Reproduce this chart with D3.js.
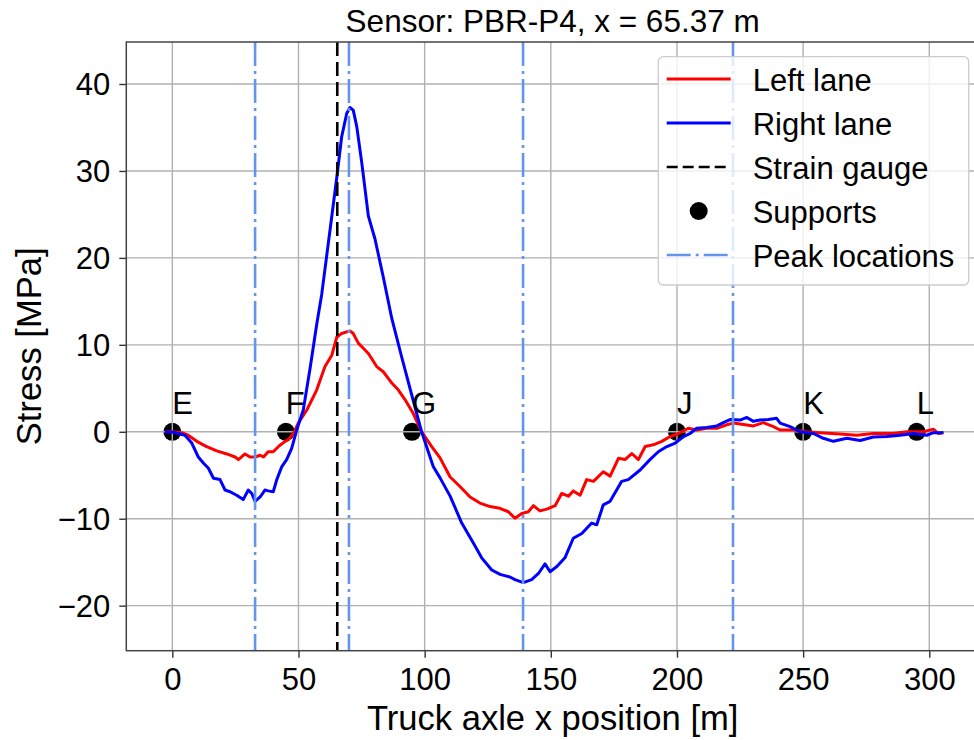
<!DOCTYPE html>
<html>
<head>
<meta charset="utf-8">
<script src="https://cdn.jsdelivr.net/npm/d3@7"></script>
<style>
  body { margin: 0; background: #fff; }
  text { font-family: "Liberation Sans", Arial, Helvetica, sans-serif; fill: #000; }
</style>
</head>
<body>
<svg id="chart" width="974" height="740"></svg>
<script>
// Stress response at sensor PBR-P4 vs. truck axle position
const leftX = [-3, 0, 3.7, 6.3, 9.7, 13.6, 17.6, 21.6, 24.9, 26.2,
  28.8, 30.8, 32.8, 34.8, 36.1, 38.0, 40.0, 42.4, 44.7, 46.0,
  48.0, 49.9, 53.3, 57.2, 60.5, 63.2, 65.2, 67.1, 70.4, 71.7,
  73.7, 75.7, 77.7, 81.0, 83.6, 87.0, 89.6, 92.2, 95.5, 98.8,
  102.8, 106.1, 110.1, 114.0, 118.0, 121.9, 125.9, 129.8, 133.2, 135.8,
  138.5, 141.1, 143.1, 145.7, 148.4, 151.7, 154.3, 157.0, 158.9, 161.6,
  164.2, 166.9, 170.8, 173.5, 176.8, 179.4, 182.1, 184.7, 187.4, 190.6,
  194.0, 197.3, 200.6, 204.5, 207.8, 211.8, 215.8, 219.7, 222.4, 225.0,
  230.3, 234.2, 238.2, 240.9, 246.1, 251.4, 256.7, 264.6, 271.3, 277.8,
  285.8, 291.1, 297.7, 301.6, 303.6, 305.6];
const leftStress = [0, 0, -0.1, -0.4, -1.1, -1.7, -2.2, -2.55, -2.9, -3.2,
  -2.55, -2.9, -2.9, -2.7, -2.9, -2.3, -2.3, -1.6, -1.1, -0.9,
  -0.2, 1.0, 2.5, 4.8, 7.5, 8.8, 10.9, 11.3, 11.6, 11.3,
  10.2, 9.6, 9.0, 7.5, 6.9, 5.6, 4.8, 3.7, 2.1, 0.0,
  -1.7, -3.0, -5.2, -6.3, -7.5, -8.2, -8.6, -8.8, -9.2, -9.95,
  -9.4, -9.2, -8.5, -9.1, -8.9, -8.5, -7.1, -7.4, -6.8, -7.3,
  -5.5, -5.7, -4.6, -5.1, -3.05, -3.2, -2.5, -3.2, -1.7, -1.5,
  -1.1, -0.55, -0.2, 0.4, 0.2, 0.4, 0.4, 0.8, 1.0, 0.9,
  0.67, 1.05, 0.6, 0.2, 0.2, 0.0, -0.1, -0.25, -0.4, -0.2,
  -0.2, 0.0, 0.0, 0.3, -0.2, -0.1];

const rightX = [-3, 0.4, 5.0, 7.7, 10.3, 12.3, 14.3, 16.3, 18.9, 20.9,
  22.9, 25.5, 28.1, 30.1, 31.5, 32.8, 34.8, 36.7, 38.0, 40.0,
  41.4, 43.4, 45.3, 47.3, 49.3, 51.9, 54.6, 57.2, 59.2, 62.5,
  65.2, 67.1, 69.1, 70.4, 71.7, 73.1, 75.1, 77.7, 80.3, 83.6,
  87.0, 90.9, 95.1, 98.8, 103.4, 106.1, 110.1, 114.7, 119.3, 122.6,
  126.6, 129.9, 133.8, 135.8, 139.1, 142.4, 145.1, 147.7, 149.7, 152.4,
  155.6, 158.9, 162.3, 166.2, 168.2, 170.8, 173.5, 178.1, 180.7, 185.4,
  189.3, 192.6, 196.0, 199.3, 202.6, 205.2, 207.8, 211.8, 215.8, 218.4,
  221.0, 225.0, 227.7, 230.3, 232.9, 236.2, 239.5, 240.9, 244.8, 248.8,
  254.1, 258.0, 262.0, 267.3, 272.6, 277.8, 283.2, 288.4, 293.7, 299.0,
  301.6, 305.6];
const rightStress = [0, -0.05, -0.4, -1.3, -2.9, -3.6, -4.2, -5.35, -5.5, -6.7,
  -6.9, -7.3, -7.8, -6.7, -7.1, -8.0, -7.5, -6.7, -6.8, -6.9,
  -5.5, -4.0, -3.2, -1.9, 0.2, 2.5, 7.3, 12.3, 15.8, 23.2,
  29.3, 33.9, 36.6, 37.3, 37.0, 35.1, 30.9, 24.8, 22.2, 17.8,
  13.0, 8.6, 4.0, 0.0, -4.0, -5.3, -7.4, -10.5, -12.8, -14.5,
  -15.9, -16.4, -16.7, -17.0, -17.35, -17.0, -16.3, -15.2, -16.1, -15.5,
  -14.5, -12.25, -11.7, -10.5, -10.7, -8.4, -8.0, -5.7, -5.5, -4.4,
  -3.2, -2.3, -1.7, -1.3, -0.55, -0.2, 0.4, 0.5, 0.67, 1.05,
  1.4, 1.35, 1.65, 1.2, 1.35, 1.4, 1.55, 1.0, 0.6, 0.0,
  -0.2, -0.75, -1.1, -0.75, -1.0, -0.6, -0.55, -0.4, -0.2, -0.4,
  -0.1, -0.1];

const supportNames = ["E", "F", "G", "J", "K", "L"];
const supportX = [0, 45, 95, 200, 250, 295];
const peakX = [32.8, 70.0, 139.0, 222.2];
const gaugeX = 65.37;
const xTicks = [0, 50, 100, 150, 200, 250, 300];
const yTicks = [-20, -10, 0, 10, 20, 30, 40];
const legendLabels = ["Left lane", "Right lane", "Strain gauge", "Supports", "Peak locations"];

const plot = { left: 126.3, right: 979, top: 42, bottom: 650.7 };
const x = d3.scaleLinear().domain([-18.24, 319.7]).range([plot.left, plot.right]);
const y = d3.scaleLinear().domain([-25.18, 44.83]).range([plot.bottom, plot.top]);

const svg = d3.select("#chart");
svg.append("rect").attr("width", 974).attr("height", 740).attr("fill", "#fff");

svg.append("defs").append("clipPath").attr("id", "plotClip")
  .append("rect")
  .attr("x", plot.left).attr("y", plot.top)
  .attr("width", plot.right - plot.left).attr("height", plot.bottom - plot.top);

const inner = svg.append("g").attr("clip-path", "url(#plotClip)");

// supports sit beneath the grid
inner.append("g").selectAll("circle")
  .data(supportX)
  .join("circle")
  .attr("cx", d => x(d)).attr("cy", y(0)).attr("r", 9)
  .attr("fill", "#000");

// grid
const grid = inner.append("g").attr("stroke", "#b0b0b0").attr("stroke-width", 1.4);
grid.selectAll("line.gx").data(xTicks).join("line").attr("class", "gx")
  .attr("x1", d => x(d)).attr("x2", d => x(d))
  .attr("y1", plot.top).attr("y2", plot.bottom);
grid.selectAll("line.gy").data(yTicks).join("line").attr("class", "gy")
  .attr("y1", d => y(d)).attr("y2", d => y(d))
  .attr("x1", plot.left).attr("x2", plot.right);

// stress curves
const line = d3.line().x(d => x(d[0])).y(d => y(d[1]));
inner.append("path")
  .datum(leftX.map((v, i) => [v, leftStress[i]]))
  .attr("d", line).attr("fill", "none")
  .attr("stroke", "#ff0000").attr("stroke-width", 3).attr("stroke-linejoin", "round");
inner.append("path")
  .datum(rightX.map((v, i) => [v, rightStress[i]]))
  .attr("d", line).attr("fill", "none")
  .attr("stroke", "#0000ff").attr("stroke-width", 3).attr("stroke-linejoin", "round");

// strain gauge position
inner.append("line")
  .attr("x1", x(gaugeX)).attr("x2", x(gaugeX))
  .attr("y1", plot.top).attr("y2", plot.bottom)
  .attr("stroke", "#000").attr("stroke-width", 2.6)
  .attr("stroke-dasharray", "14,6");

// peak locations
inner.append("g").selectAll("line")
  .data(peakX)
  .join("line")
  .attr("x1", d => x(d)).attr("x2", d => x(d))
  .attr("y1", plot.top).attr("y2", plot.bottom)
  .attr("stroke", "#6495ed").attr("stroke-width", 2.6)
  .attr("stroke-dasharray", "24,5,3,5");

// support labels
svg.append("g").selectAll("text")
  .data(supportNames)
  .join("text")
  .attr("x", (d, i) => x(supportX[i]))
  .attr("y", y(2))
  .attr("font-size", 31)
  .text(d => d);

// axes
const xAxis = svg.append("g")
  .attr("transform", `translate(0,${plot.bottom})`)
  .call(d3.axisBottom(x).tickValues(xTicks).tickSize(7).tickPadding(9).tickFormat(d3.format("d")));
const yAxis = svg.append("g")
  .attr("transform", `translate(${plot.left},0)`)
  .call(d3.axisLeft(y).tickValues(yTicks).tickSize(7).tickPadding(9).tickFormat(d3.format("d")));
[xAxis, yAxis].forEach(g => {
  g.select(".domain").remove();
  g.selectAll(".tick line").attr("stroke", "#333").attr("stroke-width", 1.4);
  g.selectAll(".tick text").attr("font-size", 31).attr("fill", "#000")
    .attr("font-family", '"Liberation Sans", Arial, sans-serif');
});
xAxis.selectAll(".tick text").attr("dy", null).attr("y", 39);
yAxis.selectAll(".tick text").attr("dy", "0.35em");

// axes frame
svg.append("rect")
  .attr("x", plot.left).attr("y", plot.top)
  .attr("width", plot.right - plot.left).attr("height", plot.bottom - plot.top)
  .attr("fill", "none").attr("stroke", "#444").attr("stroke-width", 1.5);

// titles
svg.append("text")
  .attr("x", (plot.left + plot.right) / 2).attr("y", 32)
  .attr("text-anchor", "middle").attr("font-size", 31.5)
  .text("Sensor: PBR-P4, x = 65.37 m");
svg.append("text")
  .attr("x", (plot.left + plot.right) / 2).attr("y", 730)
  .attr("text-anchor", "middle").attr("font-size", 34.6)
  .text("Truck axle x position [m]");
svg.append("text")
  .attr("transform", `translate(41,${(plot.top + plot.bottom) / 2}) rotate(-90)`)
  .attr("text-anchor", "middle").attr("font-size", 34.6)
  .text("Stress [MPa]");

// legend
const legend = svg.append("g");
legend.append("rect")
  .attr("x", 658.3).attr("y", 56.7).attr("width", 310.4).attr("height", 228.3)
  .attr("rx", 5).attr("fill", "#fff").attr("fill-opacity", 0.8)
  .attr("stroke", "#cccccc").attr("stroke-width", 1.3);
const rowY = i => 79 + i * 44;
const hx0 = 666.7, hx1 = 730.7;
legend.append("line").attr("x1", hx0).attr("x2", hx1).attr("y1", rowY(0)).attr("y2", rowY(0))
  .attr("stroke", "#ff0000").attr("stroke-width", 3);
legend.append("line").attr("x1", hx0).attr("x2", hx1).attr("y1", rowY(1)).attr("y2", rowY(1))
  .attr("stroke", "#0000ff").attr("stroke-width", 3);
legend.append("line").attr("x1", hx0).attr("x2", hx1).attr("y1", rowY(2)).attr("y2", rowY(2))
  .attr("stroke", "#000").attr("stroke-width", 2.6).attr("stroke-dasharray", "11,5");
legend.append("circle").attr("cx", (hx0 + hx1) / 2).attr("cy", rowY(3)).attr("r", 9).attr("fill", "#000");
legend.append("line").attr("x1", hx0).attr("x2", hx1).attr("y1", rowY(4)).attr("y2", rowY(4))
  .attr("stroke", "#6495ed").attr("stroke-width", 2.6).attr("stroke-dasharray", "24,5,3,5");
legend.selectAll("text.lbl")
  .data(legendLabels)
  .join("text").attr("class", "lbl")
  .attr("x", 752.7).attr("y", (d, i) => rowY(i) + 11.5)
  .attr("font-size", 31)
  .text(d => d);
</script>
</body>
</html>
